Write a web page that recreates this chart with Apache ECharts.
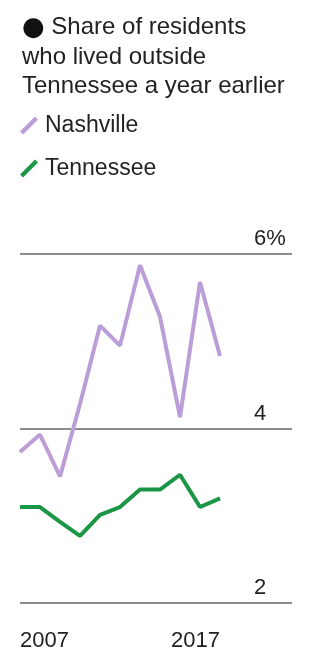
<!DOCTYPE html>
<html>
<head>
<meta charset="utf-8">
<script src="https://cdn.jsdelivr.net/npm/echarts@6/dist/echarts.min.js"></script>
<style>
  html, body { margin: 0; padding: 0; background: #fff; }
  #chart { width: 313px; height: 653px; }
</style>
</head>
<body>
<div id="chart"></div>
<script>
var years = [2007, 2008, 2009, 2010, 2011, 2012, 2013, 2014, 2015, 2016, 2017]
var nashville = [3.73, 3.93, 3.45, 4.28, 5.18, 4.95, 5.87, 5.28, 4.13, 5.68, 4.83]
var tennessee = [3.10, 3.10, 2.93, 2.77, 3.01, 3.10, 3.30, 3.30, 3.47, 3.10, 3.20]
var yTicks = [2, 4, 6]

var FONT = 'Liberation Sans, Arial, sans-serif'

function pairs (vals) {
  return vals.map(function (v, i) { return [years[i], v] })
}

var chart = echarts.init(document.getElementById('chart'))
chart.setOption({
  backgroundColor: '#fff',
  animation: false,
  title: {
    left: 17,
    top: 8,
    text: '{dot|●} Share of residents\nwho lived outside\nTennessee a year earlier',
    textStyle: {
      fontFamily: FONT,
      fontSize: 24,
      fontWeight: 'normal',
      color: '#222',
      lineHeight: 29.5,
      rich: {
        dot: { fontSize: 26, lineHeight: 29.5, color: '#111', fontFamily: 'DejaVu Sans' }
      }
    }
  },
  legend: {
    orient: 'vertical',
    left: 20,
    top: 114,
    padding: 0,
    itemWidth: 18,
    itemHeight: 18,
    itemGap: 20,
    textStyle: { fontFamily: FONT, fontSize: 23, color: '#222', padding: [0, 0, 0, 2] },
    data: [
      { name: 'Nashville', icon: 'path://M0,15 L15,0 L18,3 L3,18 Z' },
      { name: 'Tennessee', icon: 'path://M0,15 L15,0 L18,3 L3,18 Z' }
    ]
  },
  grid: { left: 20, width: 272, top: 254, height: 349 },
  xAxis: {
    type: 'value',
    min: years[0],
    max: 2020.6,
    interval: 10,
    axisLine: { show: false },
    axisTick: { show: false },
    splitLine: { show: false },
    axisLabel: {
      showMaxLabel: false,
      margin: 27,
      align: 'right',
      alignMinLabel: 'left',
      fontFamily: FONT,
      fontSize: 22,
      color: '#222',
      formatter: function (v) { return String(v) }
    }
  },
  yAxis: {
    type: 'value',
    min: yTicks[0],
    max: yTicks[yTicks.length - 1],
    interval: 2,
    axisLine: { show: false },
    axisTick: { show: false },
    splitLine: { lineStyle: { color: '#8c8c8c', width: 2 } },
    axisLabel: {
      inside: true,
      margin: 234,
      align: 'left',
      verticalAlign: 'bottom',
      padding: [0, 0, 4, 0],
      fontFamily: FONT,
      fontSize: 22,
      color: '#222',
      formatter: function (v) { return v === 6 ? v + '%' : String(v) }
    }
  },
  series: [
    {
      name: 'Nashville',
      type: 'line',
      data: pairs(nashville),
      showSymbol: false,
      color: '#bb9dd8',
      lineStyle: { width: 4, color: '#bb9dd8' }
    },
    {
      name: 'Tennessee',
      type: 'line',
      data: pairs(tennessee),
      showSymbol: false,
      color: '#1b9647',
      lineStyle: { width: 4, color: '#1b9647' }
    }
  ]
})
</script>
</body>
</html>
